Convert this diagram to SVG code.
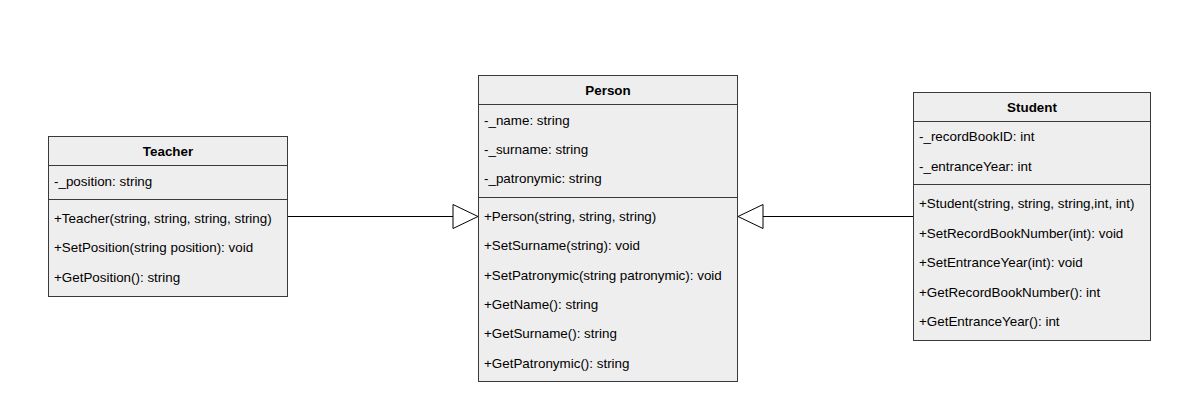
<svg xmlns="http://www.w3.org/2000/svg" width="1177" height="418" viewBox="0 0 1177 418">
<style>
.box{fill:#eeeeee;stroke:#36393d;stroke-width:1}
.div{stroke:#36393d;stroke-width:1;fill:none}
.t{font-family:"Liberation Sans",Arial,sans-serif;font-size:13.4px;fill:#000}
.h{font-family:"Liberation Sans",Arial,sans-serif;font-size:13.4px;font-weight:bold;fill:#000;text-anchor:middle}
.edge{stroke:#000;stroke-width:1;fill:none}
.tri{fill:#fff;stroke:#000;stroke-width:1}
</style>
<rect width="1177" height="418" fill="#fff"/>
<g id="connectors">
<line class="edge" x1="287" y1="216.5" x2="453" y2="216.5"/>
<polygon class="tri" points="453,204.5 478,216.5 453,228.5"/>
<line class="edge" x1="913" y1="216.5" x2="763" y2="216.5"/>
<polygon class="tri" points="763,204.5 738,216.5 763,228.5"/>
</g>
<g id="teacher">
<rect class="box" x="48.5" y="136.5" width="239" height="160"/>
<line class="div" x1="48.5" y1="165.5" x2="287.5" y2="165.5"/>
<line class="div" x1="48.5" y1="199.5" x2="287.5" y2="199.5"/>
<text class="h" x="168" y="155.5">Teacher</text>
<text class="t" x="54" y="186">-_position: string</text>
<text class="t" x="54" y="222.5">+Teacher(string, string, string, string)</text>
<text class="t" x="54" y="252">+SetPosition(string position): void</text>
<text class="t" x="54" y="281.5">+GetPosition(): string</text>
</g>
<g id="person">
<rect class="box" x="478.5" y="75.5" width="259" height="306"/>
<line class="div" x1="478.5" y1="104.5" x2="737.5" y2="104.5"/>
<line class="div" x1="478.5" y1="197.5" x2="737.5" y2="197.5"/>
<text class="h" x="608" y="94.5">Person</text>
<text class="t" x="484" y="124.5">-_name: string</text>
<text class="t" x="484" y="153.5">-_surname: string</text>
<text class="t" x="484" y="183">-_patronymic: string</text>
<text class="t" x="484" y="220.5">+Person(string, string, string)</text>
<text class="t" x="484" y="250">+SetSurname(string): void</text>
<text class="t" x="484" y="279.5">+SetPatronymic(string patronymic): void</text>
<text class="t" x="484" y="308.5">+GetName(): string</text>
<text class="t" x="484" y="338">+GetSurname(): string</text>
<text class="t" x="484" y="367.5">+GetPatronymic(): string</text>
</g>
<g id="student">
<rect class="box" x="913.5" y="92.5" width="237" height="248"/>
<line class="div" x1="913.5" y1="121.5" x2="1150.5" y2="121.5"/>
<line class="div" x1="913.5" y1="184.5" x2="1150.5" y2="184.5"/>
<text class="h" x="1032" y="111.5">Student</text>
<text class="t" x="919" y="141">-_recordBookID: int</text>
<text class="t" x="919" y="170.5">-_entranceYear: int</text>
<text class="t" x="919" y="208">+Student(string, string, string,int, int)</text>
<text class="t" x="919" y="237.5">+SetRecordBookNumber(int): void</text>
<text class="t" x="919" y="267">+SetEntranceYear(int): void</text>
<text class="t" x="919" y="296.5">+GetRecordBookNumber(): int</text>
<text class="t" x="919" y="326">+GetEntranceYear(): int</text>
</g>
</svg>
